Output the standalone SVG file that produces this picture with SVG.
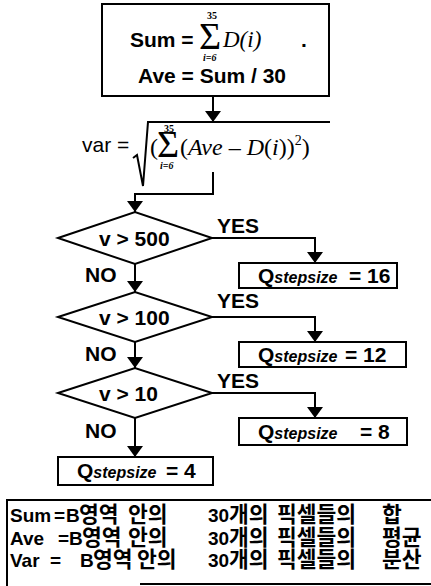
<svg xmlns="http://www.w3.org/2000/svg" width="431" height="586" viewBox="0 0 431 586">
<style>
.ln{stroke:#000;stroke-width:2;fill:none}
.box{fill:#fff;stroke:#000;stroke-width:2}
.t{font-family:"Liberation Sans",Arial,sans-serif;font-weight:bold;font-size:21px;fill:#000}
.r{font-family:"Liberation Sans",Arial,sans-serif;font-size:21px;fill:#000}
.m{font-family:"Liberation Serif","Times New Roman",serif;font-style:italic;font-size:23px;fill:#000}
.mu{font-family:"Liberation Serif","Times New Roman",serif;font-size:24px;fill:#000}
.sg{font-family:"Liberation Serif","Times New Roman",serif;font-size:38px;fill:#000}
.lim{font-family:"Liberation Serif","Times New Roman",serif;font-weight:bold;font-size:10px;fill:#000}
.sub{font-family:"Liberation Sans",Arial,sans-serif;font-weight:bold;font-style:italic;font-size:16px}
.k{font-family:"Liberation Sans","Noto Sans CJK KR",sans-serif;font-weight:bold;font-size:21.5px;fill:#000}
.l{font-size:19px}
</style>
<defs>
<marker id="ah" viewBox="0 0 11 16" refX="11" refY="8" markerWidth="11" markerHeight="16" markerUnits="userSpaceOnUse" orient="auto">
<path d="M0,0 L11,8 L0,16 z" fill="#000"/>
</marker>
</defs>

<g id="connectors">
<path class="ln" d="M213,97 V122" marker-end="url(#ah)"/>
<path class="ln" d="M213,172 V194 H135 V212" marker-end="url(#ah)"/>
<path class="ln" d="M135,264 V292" marker-end="url(#ah)"/>
<path class="ln" d="M135,342 V368" marker-end="url(#ah)"/>
<path class="ln" d="M135,418 V457" marker-end="url(#ah)"/>
<path class="ln" d="M212,238 H315 V263" marker-end="url(#ah)"/>
<path class="ln" d="M212,317 H315 V342" marker-end="url(#ah)"/>
<path class="ln" d="M212,393 H315 V418" marker-end="url(#ah)"/>
<text class="t" x="217" y="233">YES</text>
<text class="t" x="217" y="308">YES</text>
<text class="t" x="217" y="388">YES</text>
<text class="t" x="85" y="282">NO</text>
<text class="t" x="85" y="361">NO</text>
<text class="t" x="85" y="438">NO</text>
</g>

<g id="sumbox">
<rect class="box" x="102" y="4" width="227" height="92"/>
<text class="t" x="130" y="47" font-size="22">Sum =</text>
<text class="sg" x="199" y="49">Σ</text>
<text class="lim" x="207" y="19">35</text>
<text class="lim" x="203" y="61" font-style="italic">i=6</text>
<text class="m" x="223" y="47">D(i)</text>
<text class="t" x="301" y="47">.</text>
<text class="t" x="138" y="83" font-size="22">Ave = Sum / 30</text>
</g>

<g id="varformula">
<path class="ln" d="M133,158 L137,155 L143,186 L148,122 H330"/>
<text class="r" x="82" y="152">var =</text>
<text class="mu" x="150" y="155">(</text>
<text class="sg" x="157" y="157">Σ</text>
<text class="lim" x="164" y="132">35</text>
<text class="lim" x="160" y="169" font-style="italic">i=6</text>
<text class="mu" x="180" y="155">(<tspan font-style="italic">Ave</tspan> – <tspan font-style="italic">D</tspan>(<tspan font-style="italic">i</tspan>))<tspan font-size="14" dy="-10">2</tspan><tspan dy="10">)</tspan></text>
</g>

<g id="d500">
<polygon class="box" points="58,238 135,212 212,238 135,264"/>
<text class="t" x="99" y="246" font-size="22">v &gt; 500</text>
</g>
<g id="d100">
<polygon class="box" points="58,317 135,292 212,317 135,342"/>
<text class="t" x="99" y="325" font-size="22">v &gt; 100</text>
</g>
<g id="d10">
<polygon class="box" points="58,393 135,368 212,393 135,418"/>
<text class="t" x="99" y="401" font-size="22">v &gt; 10</text>
</g>

<g id="q16">
<rect class="box" x="239" y="263" width="158" height="25"/>
<text class="t" x="258" y="283">Q<tspan class="sub">stepsize</tspan><tspan x="349">= 16</tspan></text>
</g>
<g id="q12">
<rect class="box" x="239" y="342" width="167" height="25"/>
<text class="t" x="258" y="362">Q<tspan class="sub">stepsize</tspan><tspan x="345">= 12</tspan></text>
</g>
<g id="q8">
<rect class="box" x="239" y="418" width="168" height="27"/>
<text class="t" x="258" y="439">Q<tspan class="sub">stepsize</tspan><tspan x="360">= 8</tspan></text>
</g>
<g id="q4">
<rect class="box" x="58" y="457" width="155" height="28"/>
<text class="t" x="77" y="478">Q<tspan class="sub">stepsize</tspan><tspan x="166">= 4</tspan></text>
</g>

<g id="legend">
<path class="ln" d="M432,500 H7 V586"/>
<path class="ln" d="M140,584 H432"/>
<text class="k" y="522"><tspan class="l" x="10">Sum</tspan><tspan class="l" x="54">=</tspan><tspan class="l" x="66">B</tspan><tspan x="79">영역</tspan><tspan x="128">안의</tspan><tspan class="l" x="208">30</tspan><tspan x="229">개의</tspan><tspan x="277">픽셀들의</tspan><tspan x="382">합</tspan></text>
<text class="k" y="545"><tspan class="l" x="10">Ave</tspan><tspan class="l" x="58">=</tspan><tspan class="l" x="69">B</tspan><tspan x="82">영역</tspan><tspan x="128">안의</tspan><tspan class="l" x="208">30</tspan><tspan x="229">개의</tspan><tspan x="277">픽셀들의</tspan><tspan x="382">평균</tspan></text>
<text class="k" y="567"><tspan class="l" x="10">Var</tspan><tspan class="l" x="50">=</tspan><tspan class="l" x="80">B</tspan><tspan x="93">영역</tspan><tspan x="137">안의</tspan><tspan class="l" x="208">30</tspan><tspan x="229">개의</tspan><tspan x="277">픽셀들의</tspan><tspan x="382">분산</tspan></text>
</g>
</svg>
